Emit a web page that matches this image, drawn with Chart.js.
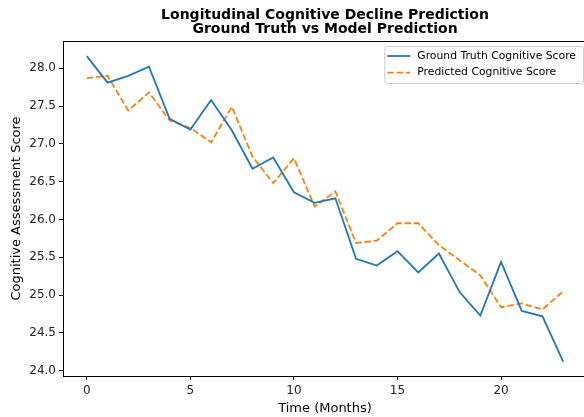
<!DOCTYPE html>
<html>
<head>
<meta charset="utf-8">
<script src="https://cdn.jsdelivr.net/npm/chart.js@4.4.0/dist/chart.umd.min.js"></script>
<style>
  html, body { margin: 0; padding: 0; background: #fff; overflow: hidden; }
  #wrap { position: absolute; left: 0; top: 0; width: 650px; height: 417px; }
</style>
</head>
<body>
<div id="wrap"><canvas id="chart" width="650" height="417"></canvas></div>
<script>
const months = [0, 1, 2, 3, 4, 5, 6, 7, 8, 9, 10, 11, 12, 13, 14, 15, 16, 17, 18, 19, 20, 21, 22, 23];

const groundTruth = [28.16, 27.81, 27.90, 28.02, 27.33, 27.19, 27.58, 27.18, 26.67, 26.82,
    26.36, 26.22, 26.28, 25.48, 25.39, 25.58, 25.30, 25.55, 25.04, 24.73,
    25.44, 24.79, 24.72, 24.12];

const predicted = [27.87, 27.90, 27.44, 27.68, 27.31, 27.21, 27.02, 27.49, 26.83, 26.48,
    26.81, 26.17, 26.37, 25.69, 25.72, 25.95, 25.95, 25.66, 25.46, 25.26,
    24.84, 24.89, 24.81, 25.05];

const xTicks = [0, 5, 10, 15, 20];
const yTicks = [24.0, 24.5, 25.0, 25.5, 26.0, 26.5, 27.0, 27.5, 28.0];

const titleLines = ["Longitudinal Cognitive Decline Prediction", "Ground Truth vs Model Prediction"];

const FONT = "'DejaVu Sans', sans-serif";

function toPoints(vals){
    return months.map((m, i) => ({x: m, y: vals[i]}));
}

// title centred over the axes, like matplotlib does it
const axesTitle = {
    id: "axesTitle",
    afterDraw(chart){
        const ctx = chart.ctx;
        const a = chart.chartArea;
        const cx = (a.left + a.right) / 2;
        ctx.save();
        ctx.font = "bold 14px " + FONT;
        ctx.fillStyle = "#000";
        ctx.textAlign = "center";
        ctx.textBaseline = "middle";
        titleLines.forEach((t, i) => ctx.fillText(t, cx, 15.5 + i * 14));
        ctx.restore();
    }
};

// legend drawn inside the plot, top right
const insideLegend = {
    id: "insideLegend",
    afterDraw(chart){
        const ctx = chart.ctx;
        const area = chart.chartArea;
        const sets = chart.data.datasets;
        ctx.save();
        ctx.font = "10.8px " + FONT;
        let textW = 0;
        sets.forEach(ds => { textW = Math.max(textW, ctx.measureText(ds.label).width); });
        const rowH = 16.6;
        const w = 33 + textW + 7;
        const h = 37;
        const x = 583 - w;
        const y = area.top + 5;
        ctx.fillStyle = "rgba(255,255,255,0.8)";
        ctx.strokeStyle = "#cccccc";
        ctx.lineWidth = 1;
        ctx.beginPath();
        ctx.roundRect(x + 0.5, y + 0.5, w, h, 2);
        ctx.fill();
        ctx.stroke();
        sets.forEach((ds, i) => {
            const cy = y + 10 + i * rowH;
            ctx.strokeStyle = ds.borderColor;
            ctx.lineWidth = ds.borderWidth;
            ctx.setLineDash(ds.borderDash || []);
            ctx.beginPath();
            ctx.moveTo(x + 3, cy);
            ctx.lineTo(x + 26, cy);
            ctx.stroke();
            ctx.setLineDash([]);
            ctx.fillStyle = "#000";
            ctx.textBaseline = "middle";
            ctx.fillText(ds.label, x + 33, cy);
        });
        ctx.restore();
    }
};

// full box around the axes
const frame = {
    id: "frame",
    afterDatasetsDraw(chart){
        const a = chart.chartArea;
        const ctx = chart.ctx;
        ctx.save();
        ctx.strokeStyle = "#000";
        ctx.lineWidth = 1;
        ctx.strokeRect(a.left + 0.5, a.top + 0.5, a.right - a.left, a.bottom - a.top);
        ctx.restore();
    }
};

new Chart(
    document.getElementById("chart"),
    {
        type: "line",
        data: {
            datasets: [
                {
                    label: "Ground Truth Cognitive Score",
                    data: toPoints(groundTruth),
                    borderColor: "#1f77b4",
                    borderWidth: 1.8,
                    pointRadius: 0,
                    tension: 0
                },
                {
                    label: "Predicted Cognitive Score",
                    data: toPoints(predicted),
                    borderColor: "#ff7f0e",
                    borderWidth: 1.8,
                    borderDash: [6.5, 2.8],
                    pointRadius: 0,
                    tension: 0
                }
            ]
        },
        options: {
            responsive: false,
            animation: false,
            devicePixelRatio: 1,
            layout: { padding: { top: 41, right: 63, bottom: 0, left: 0 } },
            plugins: {
                legend: { display: false },
                tooltip: { enabled: false },
                title: { display: false }
            },
            scales: {
                x: {
                    type: "linear",
                    min: -1.15,
                    max: 24.15,
                    afterBuildTicks: s => { s.ticks = xTicks.map(v => ({value: v})); },
                    afterFit: s => { s.height = 41; },
                    grid: { drawOnChartArea: false, drawTicks: true, tickLength: 4, color: "#000" },
                    border: { display: true, color: "#000" },
                    ticks: { color: "#222", font: { family: FONT, size: 12 }, padding: 4, maxRotation: 0 },
                    title: { display: true, text: "Time (Months)", color: "#000", font: { family: FONT, size: 13 }, padding: { top: 0, bottom: 1 } }
                },
                y: {
                    type: "linear",
                    min: 23.93,
                    max: 28.36,
                    afterBuildTicks: s => { s.ticks = yTicks.map(v => ({value: v})); },
                    afterFit: s => { s.width = 63; },
                    grid: { drawOnChartArea: false, drawTicks: true, tickLength: 4, color: "#000" },
                    border: { display: true, color: "#000" },
                    ticks: { color: "#222", font: { family: FONT, size: 12 }, padding: 3, callback: v => v.toFixed(1) },
                    title: { display: true, text: "Cognitive Assessment Score", color: "#000", font: { family: FONT, size: 13 }, padding: { top: 9, bottom: 0 } }
                }
            }
        },
        plugins: [axesTitle, insideLegend, frame]
    }
);
</script>
</body>
</html>
